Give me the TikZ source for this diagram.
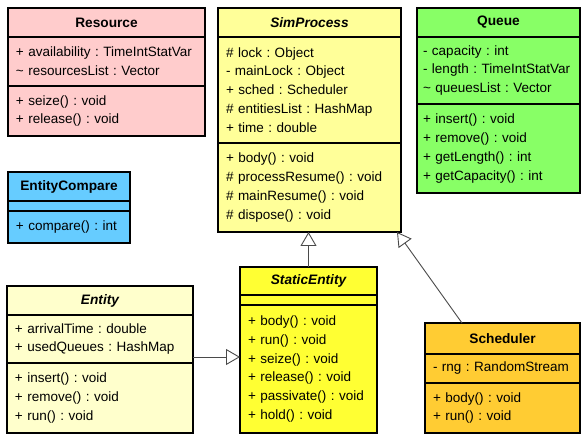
\documentclass[tikz,border=0pt]{standalone}
\usepackage{fontspec}
\setmainfont{Liberation Sans}
\usetikzlibrary{arrows.meta,positioning}
\definecolor{ResourcePink}{HTML}{FFCCCC}
\definecolor{ProcYellow}{HTML}{FFFF99}
\definecolor{QueueGreen}{HTML}{88FF66}
\definecolor{CompareBlue}{HTML}{66CCFF}
\definecolor{EntityCream}{HTML}{FFFFCC}
\definecolor{StaticYellow}{HTML}{FFFF33}
\definecolor{SchedOrange}{HTML}{FFCC33}
\definecolor{LinkGray}{HTML}{4A4A4A}
\frenchspacing
\hyphenpenalty=10000

\begin{document}
\begin{tikzpicture}[x=1pt, y=-1pt,
    box/.style={draw=black, line width=1.5pt, outer sep=0pt, anchor=north west,
        inner xsep=8pt, inner ysep=0pt, align=left,
        font=\fontsize{13.5}{18.9}\selectfont},
    head/.style={box, align=center, font=\fontsize{13.7}{16}\selectfont\bfseries},
    abstract/.style={box, align=center, font=\fontsize{13.7}{16}\selectfont\bfseries\itshape},
    gen/.style={draw=LinkGray, line width=0.9pt, -{Triangle[length=14pt, width=16pt, fill=white]}}]
        \useasboundingbox (0,0) rectangle (582,435);
        \fill[white] (0,0) rectangle (582,435);

        % Resource
        \node[head, fill=ResourcePink, text width=181pt, minimum height=29pt] (res-t) at (8,8) {Resource};
        \node[box, fill=ResourcePink, text width=181pt, minimum height=49pt] (res-a) at (8,37)
            {+ availability : TimeIntStatVar\\\textasciitilde{} resourcesList : Vector};
        \node[box, fill=ResourcePink, text width=181pt, minimum height=50pt] (res-m) at (8,86)
            {+ seize() : void\\+ release() : void};

        % SimProcess
        \node[abstract, fill=ProcYellow, text width=167pt, minimum height=29pt] (sim-t) at (218,8) {SimProcess};
        \node[box, fill=ProcYellow, text width=167pt, minimum height=106pt] (sim-a) at (218,37)
            {\# lock : Object\\- mainLock : Object\\+ sched : Scheduler\\\# entitiesList : HashMap\\+ time : double};
        \node[box, fill=ProcYellow, text width=167pt, minimum height=89pt] (sim-m) at (218,143)
            {+ body() : void\\\# processResume() : void\\\# mainResume() : void\\\# dispose() : void};

        % Queue
        \node[head, fill=QueueGreen, text width=151pt, inner xsep=6pt, minimum height=29pt] (que-t) at (417,8) {Queue};
        \node[box, fill=QueueGreen, text width=151pt, inner xsep=6pt, minimum height=67pt] (que-a) at (417,37)
            {- capacity : int\\- length : TimeIntStatVar\\\textasciitilde{} queuesList : Vector};
        \node[box, fill=QueueGreen, text width=151pt, inner xsep=6pt, minimum height=89pt] (que-m) at (417,104)
            {+ insert() : void\\+ remove() : void\\+ getLength() : int\\+ getCapacity() : int};

        % EntityCompare
        \node[head, fill=CompareBlue, text width=106pt, minimum height=29pt] (cmp-t) at (8,172) {EntityCompare};
        \node[box, fill=CompareBlue, text width=106pt, minimum height=10pt] (cmp-a) at (8,201) {};
        \node[box, fill=CompareBlue, text width=106pt, minimum height=32pt] (cmp-m) at (8,211)
            {+ compare() : int};

        % Entity
        \node[abstract, fill=EntityCream, text width=170pt, minimum height=29pt] (ent-t) at (7,286) {Entity};
        \node[box, fill=EntityCream, text width=170pt, minimum height=48pt] (ent-a) at (7,315)
            {+ arrivalTime : double\\+ usedQueues : HashMap};
        \node[box, fill=EntityCream, text width=170pt, minimum height=70pt] (ent-m) at (7,363)
            {+ insert() : void\\+ remove() : void\\+ run() : void};

        % StaticEntity
        \node[abstract, fill=StaticYellow, text width=121pt, minimum height=28pt] (ste-t) at (240,267) {StaticEntity};
        \node[box, fill=StaticYellow, text width=121pt, minimum height=10pt] (ste-a) at (240,295) {};
        \node[box, fill=StaticYellow, text width=121pt, minimum height=128pt] (ste-m) at (240,305)
            {+ body() : void\\+ run() : void\\+ seize() : void\\+ release() : void\\+ passivate() : void\\+ hold() : void};

        % Scheduler
        \node[head, fill=SchedOrange, text width=139pt, minimum height=31pt] (sch-t) at (425,323) {Scheduler};
        \node[box, fill=SchedOrange, text width=139pt, minimum height=29pt] (sch-a) at (425,354)
            {- rng : RandomStream};
        \node[box, fill=SchedOrange, text width=139pt, minimum height=50pt] (sch-m) at (425,383)
            {+ body() : void\\+ run() : void};

        % generalisations
        \draw[gen] (ste-t.north) -- (ste-t.north |- sim-m.south);
        \draw[gen] ([yshift=-18pt]ent-a.east) -- ([yshift=-18pt]ent-a.east -| ste-m.west);
        \draw[gen] ([xshift=37pt]sch-t.north west) -- ([xshift=-4pt]sim-m.south east);
    \end{tikzpicture}
\end{document}
